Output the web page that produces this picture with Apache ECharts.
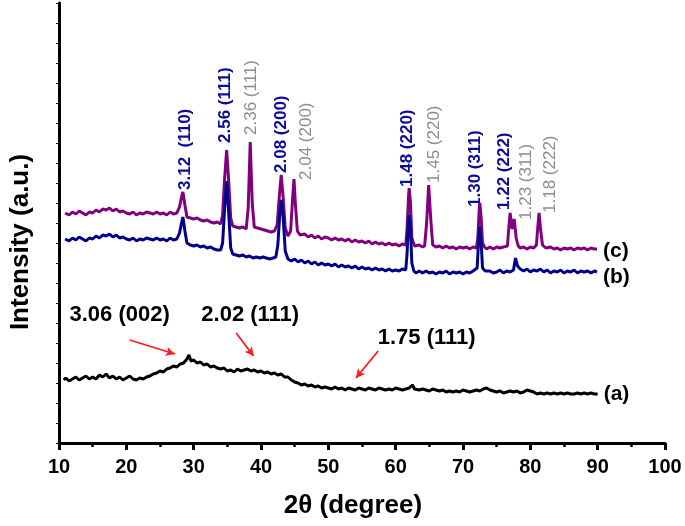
<!DOCTYPE html>
<html><head><meta charset="utf-8">
<script src="https://cdn.jsdelivr.net/npm/echarts@6/dist/echarts.min.js"></script>
<style>html,body{margin:0;padding:0;background:#fff}#c{width:685px;height:526px}</style>
</head><body><div id="c"></div>
<script>
// x tick labels
var xTicks = [10,20,30,40,50,60,70,80,90,100];
// curve (a) black
var curveA = [[10.7,63],[11,65],[11.5,62],[12,64],[12.5,66],[13,63],[13.5,65],[14,67],[14.5,64],[15,66],[15.5,64],[16,68],[16.5,66],[17,69],[17.5,65],[18,67],[18.5,64],[19,66],[19.5,63],[20,65],[20.5,67],[21,64],[21.5,63],[22,65],[22.5,64],[23,66],[23.5,67],[24,69],[24.5,70],[25,72],[25.5,71],[26,74],[26.5,75],[27,77],[27.5,76],[28,79],[28.5,80],[29,84],[29.3,88],[29.6,82],[30,83],[30.5,80],[31,81],[31.5,78],[32,79],[32.5,76],[33,77],[33.5,75],[34,74],[34.5,75],[35,72],[35.5,73],[36,71],[36.5,74],[37,72],[37.5,73],[38,74],[38.5,72],[39,73],[39.5,71],[40,72],[40.5,70],[41,71],[41.5,69],[42,70],[42.5,68],[43,69],[43.5,66],[44,66],[44.5,63],[45,61],[45.5,60],[46,58],[46.5,59],[47,57],[47.5,58],[48,56],[48.5,57],[49,55],[49.5,56],[50,55],[50.5,54],[51,56],[51.5,54],[52,55],[52.5,53],[53,55],[53.5,54],[54,53],[54.5,55],[55,54],[55.5,53],[56,55],[56.5,54],[57,53],[57.5,55],[58,54],[58.5,53],[59,54],[59.5,53],[60,55],[60.5,54],[61,53],[61.5,54],[62,55],[62.5,58],[62.8,54],[63,55],[63.5,53],[64,54],[64.5,53],[65,52],[65.5,54],[66,53],[66.5,52],[67,53],[67.5,51],[68,52],[68.5,51],[69,52],[69.5,51],[70,53],[70.5,52],[71,51],[71.5,52],[72,53],[72.5,52],[73,54],[73.5,55],[74,53],[74.5,52],[75,51],[75.5,52],[76,50],[76.5,51],[77,52],[77.5,51],[78,52],[78.5,50],[79,51],[79.5,53],[80,52],[80.5,51],[81,49],[81.5,50],[82,49],[82.5,50],[83,49],[83.5,50],[84,49],[84.5,50],[85,49],[85.5,50],[86,49],[86.5,49],[87,50],[87.5,49],[88,50],[88.5,49],[89,50],[89.5,49],[90,49]];
// curve (b) navy
var curveB = [[10.9,204],[11.5,202],[12,205],[12.5,203],[13,206],[13.5,204],[14,202],[14.5,205],[15,204],[15.5,207],[16,205],[16.5,208],[17,207],[17.5,209],[18,206],[18.5,208],[19,205],[19.5,206],[20,204],[20.5,203],[21,205],[21.5,202],[22,204],[22.5,203],[23,205],[23.5,204],[24,203],[24.5,205],[25,203],[25.5,204],[26,202],[26.5,205],[27,203],[27.5,204],[27.9,210],[28.2,220],[28.4,226],[28.7,212],[29,200],[29.5,198],[30,197],[30.5,198],[31,196],[31.5,197],[32,195],[32.5,196],[33,194],[33.5,193],[34,193],[34.3,200],[34.6,235],[34.9,262],[35.2,230],[35.5,195],[35.8,189],[36.3,188],[36.8,187],[37.3,188],[37.8,186],[38.3,187],[38.8,185],[39.3,186],[39.8,185],[40.3,186],[40.8,185],[41.3,184],[41.8,185],[42.2,186],[42.5,198],[42.8,230],[43.0,243],[43.3,225],[43.6,192],[44,184],[44.5,182],[45,184],[45.5,181],[46,183],[46.5,180],[47,182],[47.5,179],[48,181],[48.5,178],[49,180],[49.5,178],[50,179],[50.5,177],[51,179],[51.5,176],[52,178],[52.5,176],[53,177],[53.5,175],[54,177],[54.5,174],[55,176],[55.5,174],[56,175],[56.5,173],[57,175],[57.5,173],[58,174],[58.5,172],[59,174],[59.5,172],[60,173],[60.5,172],[61,174],[61.5,173],[61.7,190],[61.9,222],[62.0,228],[62.2,215],[62.4,180],[62.7,172],[63,170],[63.5,172],[64,170],[64.5,172],[65,170],[65.5,171],[66,169],[66.5,171],[67,170],[67.5,172],[68,169],[68.5,171],[69,170],[69.5,171],[70,169],[70.5,171],[71,170],[71.5,172],[72.1,175],[72.3,200],[72.5,216],[72.7,200],[72.9,175],[73.3,172],[73.5,170],[74,172],[74.5,170],[75,171],[75.5,173],[76,170],[76.5,172],[77,171],[77.5,173],[77.8,185],[78.1,177],[78.5,174],[79,172],[79.5,174],[80,171],[80.5,173],[81,172],[81.5,174],[82,171],[82.5,173],[83,170],[83.5,172],[84,171],[84.5,173],[85,170],[85.5,172],[86,171],[86.5,173],[87,170],[87.5,172],[88,171],[88.5,172],[89,170],[89.5,172],[89.9,171]];
// curve (c) purple
var curveC = [[10.9,230],[11.5,228],[12,231],[12.5,229],[13,232],[13.5,230],[14,228],[14.5,231],[15,230],[15.5,233],[16,231],[16.5,234],[17,233],[17.5,235],[18,232],[18.5,234],[19,231],[19.5,232],[20,230],[20.5,229],[21,231],[21.5,228],[22,230],[22.5,229],[23,231],[23.5,230],[24,229],[24.5,231],[25,229],[25.5,230],[26,228],[26.5,231],[27,229],[27.5,230],[27.9,236],[28.2,246],[28.4,251],[28.7,238],[29,226],[29.5,225],[30,224],[30.5,225],[31,223],[31.5,222],[32,223],[32.5,221],[33,220],[33.5,221],[34,219],[34.3,228],[34.6,265],[34.9,293],[35.2,262],[35.5,225],[35.8,217],[36.3,216],[36.8,215],[37.3,216],[37.8,214],[38.1,235],[38.4,301],[38.7,240],[39,216],[39.5,215],[40,214],[40.5,213],[41,212],[41.5,211],[42,212],[42.4,218],[42.7,245],[43.0,268],[43.3,245],[43.6,215],[44.0,207],[44.4,212],[44.7,245],[44.9,264],[45.1,240],[45.4,212],[45.8,208],[46,207],[46.5,209],[47,206],[47.5,208],[48,205],[48.5,207],[49,204],[49.5,206],[50,205],[50.5,203],[51,205],[51.5,203],[52,204],[52.5,202],[53,204],[53.5,201],[54,203],[54.5,201],[55,202],[55.5,200],[56,202],[56.5,199],[57,201],[57.5,199],[58,200],[58.5,198],[59,200],[59.5,198],[60,199],[60.5,197],[61,199],[61.5,198],[61.7,215],[61.9,245],[62.0,255],[62.2,240],[62.4,205],[62.8,197],[63,196],[63.5,198],[64,196],[64.3,197],[64.6,220],[64.9,258],[65.2,225],[65.5,198],[66,196],[66.5,197],[67,195],[67.5,197],[68,195],[68.5,196],[69,194],[69.5,196],[70,195],[70.5,196],[71,194],[71.5,196],[72,195],[72.2,205],[72.4,232],[72.5,240],[72.7,225],[72.9,200],[73.2,196],[73.5,194],[74,196],[74.5,194],[75,196],[75.5,195],[76,196],[76.6,197],[76.8,215],[77.0,230],[77.3,214],[77.6,224],[77.9,205],[78.2,197],[78.5,195],[79,196],[79.5,194],[80,196],[80.5,195],[80.9,198],[81.1,215],[81.3,230],[81.5,215],[81.8,198],[82.3,195],[82.5,194],[83,196],[83.5,194],[84,195],[84.5,193],[85,195],[85.5,194],[86,195],[86.5,193],[87,195],[87.5,194],[88,195],[88.5,193],[89,195],[89.5,194],[89.9,194]];
// peak annotations
var blueLabels = [[28.8,253,'3.12  (110)'],[34.7,300,'2.56 (111)'],[43.0,270,'2.08 (200)'],[61.8,256,'1.48 (220)'],[71.9,236,'1.30 (311)'],[76.2,233,'1.22 (222)']];
var grayLabels = [[38.6,308,'2.36 (111)'],[46.7,263,'2.04 (200)'],[65.7,260,'1.45 (220)'],[79.4,223,'1.23 (311)'],[83.0,230,'1.18 (222)']];
var arrowTexts = [[19.0,128,'3.06 (002)'],[38.4,128,'2.02 (111)'],[64.6,105,'1.75 (111)']];
var arrows = [[[20.5,103],[27.2,89]],[[36.3,110],[38.9,87]],[[57.4,92],[54.1,65]]];
var curveNames = ['(a)','(b)','(c)'];

var FF = 'Liberation Sans, Arial, sans-serif';
var chart = echarts.init(document.getElementById('c'));
function endLbl(t, off){return {show:true, formatter:t, color:'#000', fontFamily:FF, fontWeight:'bold', fontSize:21, distance:6, offset:off};}
chart.setOption({
  animation:false,
  grid:{left:57, right:20, top:3, bottom:83},
  xAxis:{type:'value', min:10, max:100, interval:10,
    name:'2θ (degree)', nameLocation:'middle', nameGap:50,
    nameTextStyle:{fontFamily:FF, fontWeight:'bold', fontSize:26, color:'#000', padding:[0,18,0,0]},
    axisLine:{lineStyle:{color:'#000', width:3}},
    axisTick:{length:7, lineStyle:{width:3, color:'#000'}},
    minorTick:{show:true, splitNumber:2, length:4, lineStyle:{width:2.5, color:'#000'}},
    axisLabel:{fontFamily:FF, fontWeight:'bold', fontSize:20, color:'#000', margin:14,
      formatter:function(v){return xTicks.indexOf(v)>=0? String(v):'';}},
    splitLine:{show:false}},
  yAxis:{type:'value', min:0, max:440, interval:20,
    name:'Intensity (a.u.)', nameLocation:'middle', nameGap:25,
    nameTextStyle:{fontFamily:FF, fontWeight:'bold', fontSize:26, color:'#000', padding:[0,38,0,0]},
    axisLine:{show:true, lineStyle:{color:'#000', width:3}},
    axisTick:{show:true, length:3, lineStyle:{width:1, color:'#000'}},
    axisLabel:{show:false}, splitLine:{show:false}},
  series:[
    {type:'line', data:curveA, showSymbol:false, lineStyle:{color:'#000', width:3}, itemStyle:{color:'#000'},
     endLabel:endLbl(curveNames[0],[0,0]),
     markLine:{silent:true, symbol:['none','arrow'], symbolSize:[7,9], label:{show:false},
       lineStyle:{color:'#ff1a1a', width:1.8, type:'solid'},
       data:arrows.map(function(a){return [{coord:a[0]},{coord:a[1]}];})}},
    {type:'line', data:curveC, showSymbol:false, lineStyle:{color:'#800080', width:3}, itemStyle:{color:'#800080'},
     endLabel:endLbl(curveNames[2],[0,2])},
    {type:'line', data:curveB, showSymbol:false, lineStyle:{color:'#00008b', width:3}, itemStyle:{color:'#00008b'},
     endLabel:endLbl(curveNames[1],[0,5])},
    {type:'scatter', symbolSize:0, silent:true, itemStyle:{opacity:1},
     data:blueLabels.map(function(d){return {value:[d[0],d[1]], name:d[2]};}),
     label:{show:true, position:'inside', rotate:90, align:'left', verticalAlign:'middle', formatter:'{b}',
       fontFamily:FF, fontWeight:'bold', fontSize:17, color:'#0c0c9a'}},
    {type:'scatter', symbolSize:0, silent:true, itemStyle:{opacity:1},
     data:grayLabels.map(function(d){return {value:[d[0],d[1]], name:d[2]};}),
     label:{show:true, position:'inside', rotate:90, align:'left', verticalAlign:'middle', formatter:'{b}',
       fontFamily:FF, fontSize:17, color:'#8c8c8c'}},
    {type:'scatter', symbolSize:0, silent:true, itemStyle:{opacity:1},
     data:arrowTexts.map(function(d){return {value:[d[0],d[1]], name:d[2]};}),
     label:{show:true, position:'inside', align:'center', verticalAlign:'middle', formatter:'{b}',
       fontFamily:FF, fontWeight:'bold', fontSize:22, color:'#000'}}
  ]
});
</script></body></html>
